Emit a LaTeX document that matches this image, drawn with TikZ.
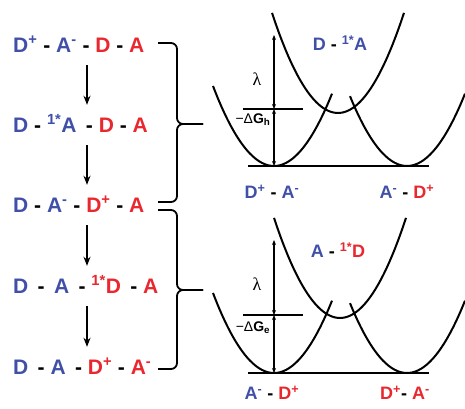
\documentclass[tikz,border=0pt]{standalone}
\usepackage{fontspec}
\setmainfont{Liberation Sans}
\newfontfamily\lamfont{Liberation Serif}
\usepackage{xcolor}
\usetikzlibrary{arrows.meta}

\definecolor{donorblue}{RGB}{64,80,168}
\definecolor{acceptred}{RGB}{232,40,46}
\newcommand{\blu}[1]{\textcolor{donorblue}{#1}}
\newcommand{\rdd}[1]{\textcolor{acceptred}{#1}}

\begin{document}
\begin{tikzpicture}[
    x=1pt, y=-1pt,
    row/.style={anchor=west, inner sep=0pt, text height=14pt, text depth=0pt, font=\fontsize{21}{25}\selectfont\bfseries},
    statetxt/.style={inner sep=0pt, font=\fontsize{18}{21}\selectfont\bfseries},
    flow/.style={-{Stealth[length=9pt,width=7pt]}, line width=1.6pt, shorten <=13pt, shorten >=13pt},
    dimline/.style={{Stealth[length=5pt,width=4pt]}-{Stealth[length=5pt,width=4pt]}, line width=1.2pt},
    well/.style={line width=2pt, smooth, samples=40},
    level/.style={line width=1.5pt},
    bracket/.style={line width=1.8pt, rounded corners=6pt}
]
\useasboundingbox (0,0) rectangle (465,408);

% reaction sequence
\node[row] (r1) at (13,45) {\blu{D\textsuperscript{+}} - \blu{A\textsuperscript{-}} - \rdd{D} - \rdd{A}};
\node[row] (r2) at (13,125) {\blu{D} - \blu{\textsuperscript{1*}A} \,- \rdd{D} - \rdd{A}};
\node[row] (r3) at (13,205) {\blu{D} - \blu{A\textsuperscript{-}} - \rdd{D\textsuperscript{+}} - \rdd{A}};
\node[row] (r4) at (13,286) {\blu{D} \,- \,\blu{A} \,- \rdd{\textsuperscript{1*}D} \,- \rdd{A}};
\node[row] (r5) at (13,367) {\blu{D} \,- \blu{A} \,- \rdd{D\textsuperscript{+}} - \rdd{A\textsuperscript{-}}};

\draw[flow] ([xshift=74]r1.south west) -- ([xshift=74]r2.north west);
\draw[flow] ([xshift=74]r2.south west) -- ([xshift=74]r3.north west);
\draw[flow] ([xshift=74]r3.south west) -- ([xshift=74]r4.north west);
\draw[flow] ([xshift=74]r4.south west) -- ([xshift=74]r5.north west);

% braces
\draw[bracket] (158,43) -| (177,124) -- (203,124);
\draw[bracket] (158,202) -| (177,124) -- (203,124);
\draw[bracket] (158,210) -| (177,290) -- (203,290);
\draw[bracket] (158,369) -| (177,290) -- (203,290);

% hole transfer wells
\draw[well] plot[domain=-61:58] ({274+\x},{166-0.0215*\x*\x});
\draw[well] plot[domain=-57:58] ({407+\x},{166-0.0215*\x*\x});
\draw[well] plot[domain=-66:66] ({338+\x},{113-0.023*\x*\x});
\draw[level] (248,166) -- (429,166);
\draw[level] (243,109) -- (303,109);
\coordinate (h0) at (274,166);
\coordinate (h1) at (274,109);
\coordinate (h2) at (274,35);
\draw[dimline] (h1) -- (h2);
\draw[dimline] (h0) -- (h1);
\node (lamh) at (257,79) {\fontsize{18}{21}\selectfont\lamfont λ};
\node (dgh) at (253,120) {\fontsize{14}{16}\selectfont −Δ\textbf{G\textsubscript{h}}};
\node[statetxt] (exh) at (340,43) {\blu{D} - \blu{\textsuperscript{1*}A}};
\node[statetxt] (lh) at (272,192) {\blu{D\textsuperscript{+}} - \blu{A\textsuperscript{-}}};
\node[statetxt] (rh) at (407,192) {\blu{A\textsuperscript{-}} - \rdd{D\textsuperscript{+}}};

% electron transfer wells
\draw[well] plot[domain=-61:58] ({274+\x},{373-0.0215*\x*\x});
\draw[well] plot[domain=-57:58] ({407+\x},{373-0.0215*\x*\x});
\draw[well] plot[domain=-66:66] ({340+\x},{318-0.023*\x*\x});
\draw[level] (248,373) -- (429,373);
\draw[level] (243,315) -- (303,315);
\coordinate (e0) at (274,373);
\coordinate (e1) at (274,315);
\coordinate (e2) at (274,240);
\draw[dimline] (e1) -- (e2);
\draw[dimline] (e0) -- (e1);
\node (lame) at (257,284) {\fontsize{18}{21}\selectfont\lamfont λ};
\node (dge) at (253,328) {\fontsize{14}{16}\selectfont −Δ\textbf{G\textsubscript{e}}};
\node[statetxt] (exe) at (338,250) {\blu{A} - \rdd{\textsuperscript{1*}D}};
\node[statetxt] (le) at (272,393) {\blu{A\textsuperscript{-}} - \rdd{D\textsuperscript{+}}};
\node[statetxt] (re) at (405,393) {\rdd{D\textsuperscript{+}}- \rdd{A\textsuperscript{-}}};
\end{tikzpicture}
\end{document}
